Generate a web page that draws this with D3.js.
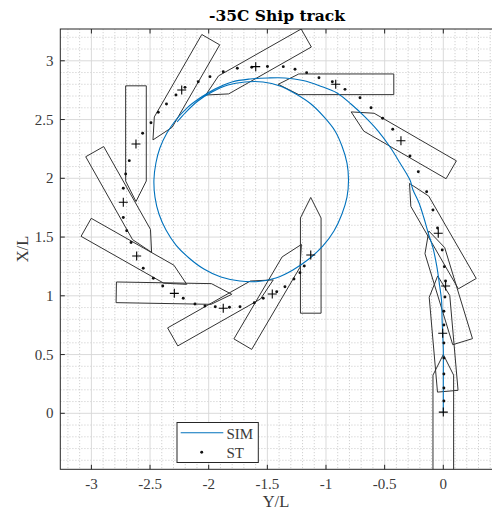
<!DOCTYPE html>
<html><head><meta charset="utf-8">
<script src="https://cdn.jsdelivr.net/npm/d3@7"></script>
<style>body{margin:0;background:#fff}svg{display:block}</style>
</head><body>
<svg id="chart" width="492" height="515"></svg>
<script>
// ---------- data ----------
const xTicks = [-3, -2.5, -2, -1.5, -1, -0.5, 0];
const xTickLabels = ["-3", "-2.5", "-2", "-1.5", "-1", "-0.5", "0"];
const yTicks = [0, 0.5, 1, 1.5, 2, 2.5, 3];
const yTickLabels = ["0", "0.5", "1", "1.5", "2", "2.5", "3"];

// SIM trajectory (Y/L, X/L)
const simY = [0, 0, 0, -0.01, -0.015, -0.032, -0.056, -0.088, -0.128, -0.165, -0.207, -0.258, -0.284, -0.369, -0.454, -0.557, -0.668, -0.787, -0.906, -1.051, -1.196, -1.350, -1.495, -1.648, -1.802, -1.947, -2.075, -2.186, -2.280, -2.356, -2.416, -2.450, -2.467, -2.458, -2.424, -2.364, -2.279, -2.168, -2.041, -1.896, -1.734, -1.580, -1.427, -1.282, -1.146, -1.026, -0.932, -0.864, -0.821, -0.808, -0.821, -0.864, -0.923, -1.017, -1.128, -1.256, -1.392, -1.537, -1.691, -1.836, -1.972, -2.092, -2.194, -2.270];
const simX = [0, 0.28, 0.54, 0.79, 0.96, 1.092, 1.254, 1.407, 1.534, 1.662, 1.790, 1.900, 1.985, 2.130, 2.266, 2.403, 2.522, 2.632, 2.726, 2.786, 2.832, 2.854, 2.854, 2.845, 2.820, 2.760, 2.683, 2.598, 2.496, 2.385, 2.258, 2.130, 1.985, 1.840, 1.696, 1.560, 1.432, 1.322, 1.228, 1.160, 1.126, 1.122, 1.151, 1.220, 1.313, 1.424, 1.551, 1.696, 1.840, 1.985, 2.130, 2.275, 2.403, 2.522, 2.632, 2.717, 2.786, 2.820, 2.820, 2.794, 2.735, 2.658, 2.564, 2.479];

// ST measured track points (Y/L, X/L)
const stY = [0.005, 0.005, 0.005, 0.005, 0.005, 0.005, 0.005, 0.014, 0.019, 0.009, -0.009, -0.049, -0.088, -0.142, -0.213, -0.284, -0.431, -0.517, -0.616, -0.710, -0.838, -0.946, -1.060, -1.165, -1.264, -1.364, -1.499, -1.633, -1.756, -1.876, -1.989, -2.089, -2.202, -2.279, -2.360, -2.430, -2.492, -2.563, -2.677, -2.708, -2.728, -2.728, -2.699, -2.662, -2.558, -2.472, -2.392, -2.217, -2.117, -2.032, -1.944, -1.823, -1.733, -1.611, -1.535, -1.420, -1.350, -1.273, -1.222, -1.185];
const stX = [0.105, 0.215, 0.334, 0.470, 0.598, 0.751, 0.868, 0.990, 1.126, 1.248, 1.390, 1.577, 1.730, 1.886, 2.056, 2.190, 2.417, 2.511, 2.601, 2.686, 2.757, 2.822, 2.856, 2.899, 2.928, 2.950, 2.951, 2.945, 2.936, 2.907, 2.865, 2.822, 2.774, 2.709, 2.632, 2.562, 2.473, 2.383, 2.150, 2.037, 1.915, 1.666, 1.554, 1.454, 1.234, 1.149, 1.083, 0.979, 0.930, 0.913, 0.907, 0.902, 0.907, 0.941, 0.979, 1.035, 1.077, 1.143, 1.197, 1.254];

// Ship snapshots: centre (Y/L, X/L) and heading (deg)
const shipY = [0, -0.005, 0.02, -0.043, -0.361, -0.917, -1.599, -2.230, -2.620, -2.728, -2.614, -2.293, -1.876, -1.458, -1.130];
const shipX = [0.01, 0.681, 1.083, 1.532, 2.320, 2.800, 2.950, 2.751, 2.292, 1.796, 1.339, 1.021, 0.894, 1.015, 1.347];
const shipHeading = [0, -5, -17, -30, -60, -90, -119.5, -150, -180, -209.5, -240.5, -269, -299.5, -329.5, -360];

// hull outline in ship coordinates (along, across), units of L
const hullAlong  = [-0.495, 0.315, 0.49, 0.315, -0.495];
const hullAcross = [-0.088, -0.088, 0, 0.088, 0.088];

(function () {
// ---------- layout ----------
const W = 492, H = 515;
const pL = 60.3, pR = 492, pT = 29, pB = 469.3;
const x = d3.scaleLinear().domain([-3.2651, 0.4152]).range([pL, pR]);
const y = d3.scaleLinear().domain([-0.4766, 3.2706]).range([pB, pT]);

const svg = d3.select("#chart");
svg.append("rect").attr("width", W).attr("height", H).attr("fill", "#fff");

const serif = "Liberation Serif, serif";
const axisColor = "#262626";
const labelColor = "#3a3a3a";

svg.append("defs").append("clipPath").attr("id", "plotclip")
  .append("rect").attr("x", pL).attr("y", pT).attr("width", pR - pL).attr("height", pB - pT);

// minor grid
const isMajor = v => Math.abs(v * 2 - Math.round(v * 2)) < 1e-6;
const minorXs = d3.range(-32, 5).map(i => i / 10).filter(v => !isMajor(v));
const minorYs = d3.range(-4, 33).map(i => i / 10).filter(v => !isMajor(v));
svg.append("g").selectAll("line").data(minorXs).join("line")
  .attr("x1", d => x(d)).attr("x2", d => x(d)).attr("y1", pT).attr("y2", pB)
  .attr("stroke", "#bdbdbd").attr("stroke-width", 0.7).attr("stroke-dasharray", "1.2,1.8");
svg.append("g").selectAll("line").data(minorYs).join("line")
  .attr("y1", d => y(d)).attr("y2", d => y(d)).attr("x1", pL).attr("x2", pR)
  .attr("stroke", "#bdbdbd").attr("stroke-width", 0.7).attr("stroke-dasharray", "1.2,1.8");

// major grid
svg.append("g").selectAll("line").data(xTicks).join("line")
  .attr("x1", d => x(d)).attr("x2", d => x(d)).attr("y1", pT).attr("y2", pB)
  .attr("stroke", "#d6d6d6").attr("stroke-width", 0.9);
svg.append("g").selectAll("line").data(yTicks).join("line")
  .attr("y1", d => y(d)).attr("y2", d => y(d)).attr("x1", pL).attr("x2", pR)
  .attr("stroke", "#d6d6d6").attr("stroke-width", 0.9);

const plot = svg.append("g").attr("clip-path", "url(#plotclip)");

// ships
const rad = Math.PI / 180;
shipY.forEach((cy, i) => {
  const cx = shipX[i], h = shipHeading[i] * rad;
  const pts = hullAlong.map((a, k) => {
    const c = hullAcross[k];
    const Yv = cy + a * Math.sin(h) + c * Math.cos(h);
    const Xv = cx + a * Math.cos(h) - c * Math.sin(h);
    return [x(Yv), y(Xv)];
  });
  plot.append("path").attr("d", d3.line()(pts) + "Z")
    .attr("fill", "none").attr("stroke", "#333").attr("stroke-width", 1);
});

// SIM line
const simPts = simY.map((v, i) => [v, simX[i]]);
plot.append("path")
  .attr("d", d3.line().x(d => x(d[0])).y(d => y(d[1])).curve(d3.curveCatmullRom)(simPts))
  .attr("fill", "none").attr("stroke", "#0072BD").attr("stroke-width", 1.1);

// ST dots
plot.selectAll("circle").data(stY.map((v, i) => [v, stX[i]])).join("circle")
  .attr("cx", d => x(d[0])).attr("cy", d => y(d[1])).attr("r", 1.45).attr("fill", "#111");

// + markers at ship centres
shipY.forEach((cy, i) => {
  const px = x(cy), py = y(shipX[i]);
  plot.append("path").attr("d", `M${px - 4.5},${py}H${px + 4.5}M${px},${py - 4.5}V${py + 4.5}`)
    .attr("stroke", "#000").attr("stroke-width", 1.1);
});

// axes box
svg.append("rect").attr("x", pL).attr("y", pT).attr("width", pR - pL + 1).attr("height", pB - pT)
  .attr("fill", "none").attr("stroke", axisColor).attr("stroke-width", 1);

// ticks (inward)
const tl = 4.5;
xTicks.forEach(t => {
  svg.append("line").attr("x1", x(t)).attr("x2", x(t)).attr("y1", pB).attr("y2", pB - tl).attr("stroke", axisColor);
  svg.append("line").attr("x1", x(t)).attr("x2", x(t)).attr("y1", pT).attr("y2", pT + tl).attr("stroke", axisColor);
});
yTicks.forEach(t => {
  svg.append("line").attr("y1", y(t)).attr("y2", y(t)).attr("x1", pL).attr("x2", pL + tl).attr("stroke", axisColor);
});

// tick labels
svg.append("g").selectAll("text").data(xTicks).join("text")
  .attr("x", d => x(d)).attr("y", 489).attr("text-anchor", "middle")
  .attr("font-family", serif).attr("font-size", 15).attr("fill", labelColor)
  .text((d, i) => xTickLabels[i]);
svg.append("g").selectAll("text").data(yTicks).join("text")
  .attr("x", 53.5).attr("y", d => y(d) + 5).attr("text-anchor", "end")
  .attr("font-family", serif).attr("font-size", 15).attr("fill", labelColor)
  .text((d, i) => yTickLabels[i]);

// axis labels
svg.append("text").attr("x", 276).attr("y", 507).attr("text-anchor", "middle")
  .attr("font-family", serif).attr("font-size", 16.5).attr("fill", labelColor).text("Y/L");
svg.append("text").attr("transform", `translate(28,249) rotate(-90)`)
  .attr("text-anchor", "middle").attr("font-family", serif).attr("font-size", 16.5)
  .attr("fill", labelColor).text("X/L");

// title
svg.append("text").attr("x", 277).attr("y", 21).attr("text-anchor", "middle")
  .attr("font-family", "DejaVu Serif, serif").attr("font-weight", "bold").attr("font-size", 15.5)
  .attr("fill", "#000").text("-35C Ship track");

// legend
const lg = svg.append("g");
lg.append("rect").attr("x", 177).attr("y", 422.5).attr("width", 81.3).attr("height", 40)
  .attr("fill", "#fff").attr("stroke", axisColor).attr("stroke-width", 1);
lg.append("line").attr("x1", 180.7).attr("x2", 223.3).attr("y1", 432.7).attr("y2", 432.7)
  .attr("stroke", "#0072BD").attr("stroke-width", 1.1);
lg.append("circle").attr("cx", 201.7).attr("cy", 452.3).attr("r", 1.45).attr("fill", "#111");
lg.append("text").attr("x", 226.5).attr("y", 439.3).attr("font-family", serif).attr("font-size", 15)
  .attr("fill", labelColor).text("SIM");
lg.append("text").attr("x", 226.5).attr("y", 458.3).attr("font-family", serif).attr("font-size", 15)
  .attr("fill", labelColor).text("ST");
})();
</script>
</body></html>
